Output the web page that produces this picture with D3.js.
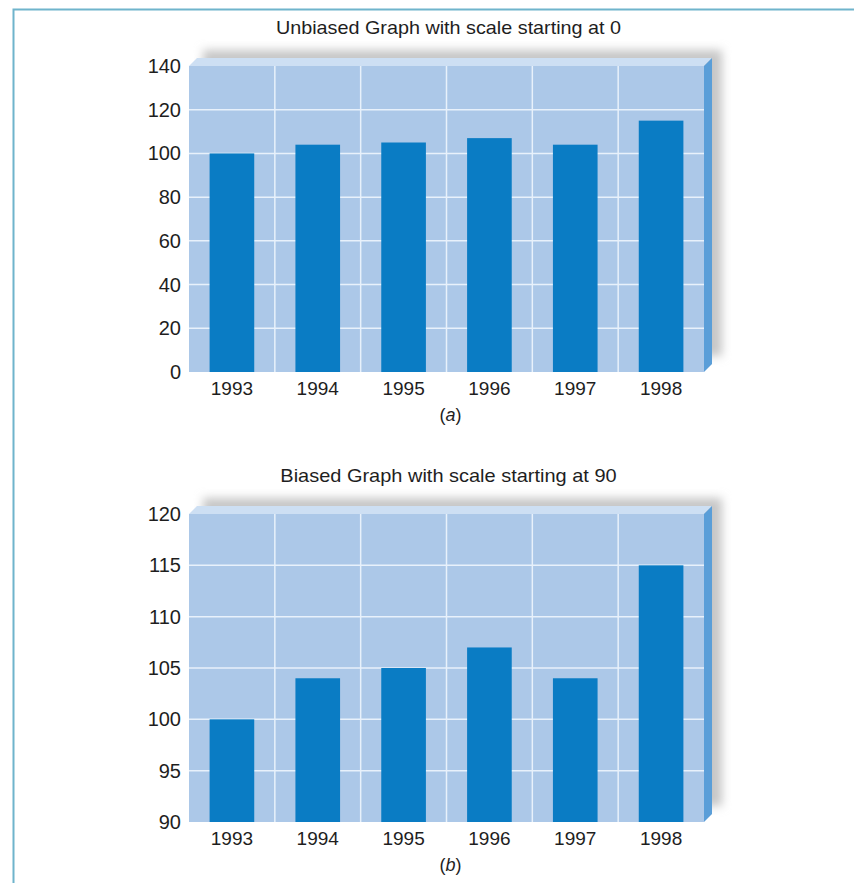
<!DOCTYPE html>
<html>
<head>
<meta charset="utf-8">
<script src="https://cdn.jsdelivr.net/npm/d3@7"></script>
<style>
  body { margin: 0; background: #fff; }
  text { font-family: "Liberation Sans", Arial, sans-serif; fill: #1e1e1e; }
</style>
</head>
<body>
<div id="chart"></div>
<script>
// data
var years = ["1993", "1994", "1995", "1996", "1997", "1998"];
var values = [100, 104, 105, 107, 104, 115];
var ticksA = [0, 20, 40, 60, 80, 100, 120, 140];
var ticksB = [90, 95, 100, 105, 110, 115, 120];

var width = 854, height = 883;
var svg = d3.select("#chart").append("svg")
  .attr("width", width).attr("height", height);

// blur voor de schaduw
var defs = svg.append("defs");
defs.append("filter").attr("id", "blur")
  .attr("x", "-20%").attr("y", "-20%").attr("width", "140%").attr("height", "140%")
  .append("feGaussianBlur").attr("stdDeviation", 5);

// kader
svg.append("path")
  .attr("d", "M13.5," + height + " V9.5 H" + width)
  .attr("fill", "none").attr("stroke", "#6fb4cc").attr("stroke-width", 2);

function drawPanel(top, bottom, domain, ticks, title, titleY, label, labelY) {
  var left = 189, right = 704, depth = 8;
  var g = svg.append("g");

  var x = d3.scaleBand().domain(years).range([left, right]).paddingInner(0).paddingOuter(0);
  var y = d3.scaleLinear().domain(domain).range([bottom, top]);

  // schaduw achter de doos
  g.append("rect")
    .attr("x", left + 14).attr("y", top - depth - 8)
    .attr("width", right - left + 4).attr("height", bottom - top)
    .attr("fill", "#c6c6c6").attr("filter", "url(#blur)");

  // bovenvlak en zijvlak
  g.append("polygon")
    .attr("points", [[left, top], [left + depth, top - depth], [right + depth, top - depth], [right, top]].join(" "))
    .attr("fill", "#cddff3");
  g.append("polygon")
    .attr("points", [[right, top], [right + depth, top - depth], [right + depth, bottom - depth], [right, bottom]].join(" "))
    .attr("fill", "#5a9ed8");

  // achtergrond
  g.append("rect")
    .attr("x", left).attr("y", top)
    .attr("width", right - left).attr("height", bottom - top)
    .attr("fill", "#acc8e8");

  // rasterlijnen
  g.selectAll(".hgrid").data(ticks.slice(1, -1)).enter().append("line")
    .attr("x1", left).attr("x2", right)
    .attr("y1", d => y(d)).attr("y2", d => y(d))
    .attr("stroke", "#e8f1fb").attr("stroke-width", 1.5);
  g.selectAll(".vgrid").data(years.slice(1)).enter().append("line")
    .attr("x1", d => x(d)).attr("x2", d => x(d))
    .attr("y1", top).attr("y2", bottom)
    .attr("stroke", "#e8f1fb").attr("stroke-width", 1.5);

  // staven
  var bw = x.bandwidth() * 0.52;
  g.selectAll(".bar").data(values).enter().append("rect")
    .attr("x", (d, i) => x(years[i]) + (x.bandwidth() - bw) / 2)
    .attr("y", d => y(d))
    .attr("width", bw)
    .attr("height", d => bottom - y(d))
    .attr("fill", "#0a7cc4");

  // y-as labels
  g.selectAll(".ytick").data(ticks).enter().append("text")
    .attr("x", left - 8).attr("y", d => y(d) + 7)
    .attr("text-anchor", "end").attr("font-size", 20)
    .text(d => d);

  // x-as labels
  g.selectAll(".xtick").data(years).enter().append("text")
    .attr("x", d => x(d) + x.bandwidth() / 2).attr("y", bottom + 23)
    .attr("text-anchor", "middle").attr("font-size", 19)
    .text(d => d);

  // titel
  g.append("text")
    .attr("x", (left + right) / 2 + 2).attr("y", titleY)
    .attr("text-anchor", "middle").attr("font-size", 19)
    .attr("textLength", title.length * 8.85).attr("lengthAdjust", "spacingAndGlyphs")
    .text(title);

  // (a) / (b)
  var lab = g.append("text")
    .attr("x", (left + right) / 2 + 4).attr("y", labelY)
    .attr("text-anchor", "middle").attr("font-size", 18)
    .attr("font-family", "'Liberation Serif', 'DejaVu Serif', serif");
  lab.append("tspan").text("(");
  lab.append("tspan").attr("font-style", "italic").text(label);
  lab.append("tspan").text(")");
}

drawPanel(66, 372, [0, 140], ticksA, "Unbiased Graph with scale starting at 0", 34, "a", 421);
drawPanel(514, 822, [90, 120], ticksB, "Biased Graph with scale starting at 90", 482, "b", 871);
</script>
</body>
</html>
